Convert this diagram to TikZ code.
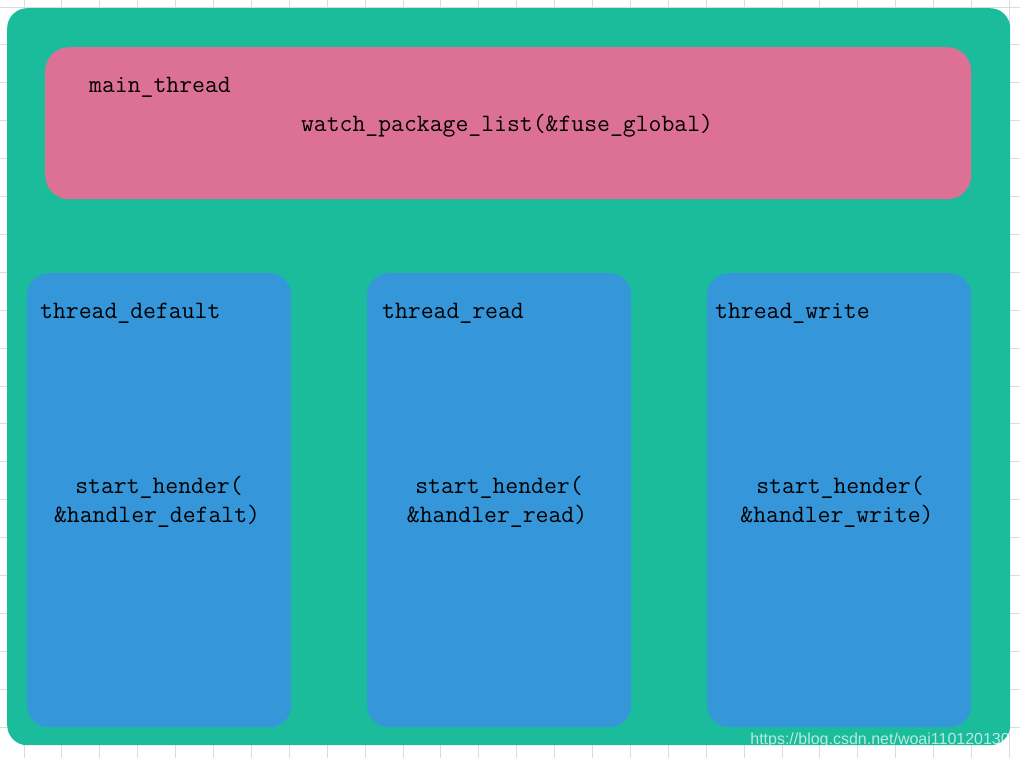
\documentclass[tikz,border=0pt]{standalone}
\usepackage{fontspec}
\newfontfamily\wmfont{Liberation Sans}
\definecolor{bggreen}{HTML}{1ABC9C}
\definecolor{pinkbox}{HTML}{DD7195}
\definecolor{bluebox}{HTML}{3596DA}
\definecolor{gridgray}{HTML}{DCDCDC}
\begin{document}
\begin{tikzpicture}[x=1pt,y=-1pt,
  lbl/.style={font=\ttfamily\fontsize{25}{27}\selectfont, inner sep=0pt, text=black},
  gridline/.style={draw=gridgray, line width=0.9pt}]
\useasboundingbox (0,0) rectangle (1020,758);
\fill[white] (0,0) rectangle (1020,758);
\foreach \i in {0,...,26} {
  \draw[gridline] (24+37.9*\i,0) -- (24+37.9*\i,758);
}
\foreach \j in {0,...,19} {
  \draw[gridline] (0,7+37.9*\j) -- (1020,7+37.9*\j);
}
\node[fill=bggreen, rounded corners=20pt, minimum width=1003pt, minimum height=737pt, anchor=north west, inner sep=0pt] (outer) at (7,8) {};
\node[fill=pinkbox, rounded corners=24pt, minimum width=926pt, minimum height=152pt, anchor=north west, inner sep=0pt] (main) at (45,47) {};
\node[fill=bluebox, rounded corners=22pt, minimum width=264pt, minimum height=454pt, anchor=north west, inner sep=0pt] (tdef) at (27,273) {};
\node[fill=bluebox, rounded corners=22pt, minimum width=264pt, minimum height=454pt, anchor=north west, inner sep=0pt] (tread) at (367,273) {};
\node[fill=bluebox, rounded corners=22pt, minimum width=264pt, minimum height=454pt, anchor=north west, inner sep=0pt] (twrite) at (707,273) {};

\node[lbl, anchor=base west] (mainlbl) at (89,92) {main\_thread};
\node[lbl, anchor=base] (watch) at (507,131) {watch\_package\_list(\&fuse\_global)};

\node[lbl, anchor=base west] (tdeflbl) at (40,318) {thread\_default};
\node[lbl, anchor=base west] (treadlbl) at (382,318) {thread\_read};
\node[lbl, anchor=base west] (twritelbl) at (715,318) {thread\_write};

\node[lbl, anchor=base] (sh1) at (159,493) {start\_hender(};
\node[lbl, anchor=base] (hd1) at (157,522) {\&handler\_defalt)};
\node[lbl, anchor=base] (sh2) at (499,493) {start\_hender(};
\node[lbl, anchor=base] (hd2) at (497,522) {\&handler\_read)};
\node[lbl, anchor=base] (sh3) at (840,493) {start\_hender(};
\node[lbl, anchor=base] (hd3) at (837,522) {\&handler\_write)};

\node[font=\wmfont\fontsize{16}{18}\selectfont, text=white, text opacity=0.7, anchor=base east, inner sep=0pt] (wm) at (1010,744) {https://blog.csdn.net/woai110120130};
\end{tikzpicture}
\end{document}
